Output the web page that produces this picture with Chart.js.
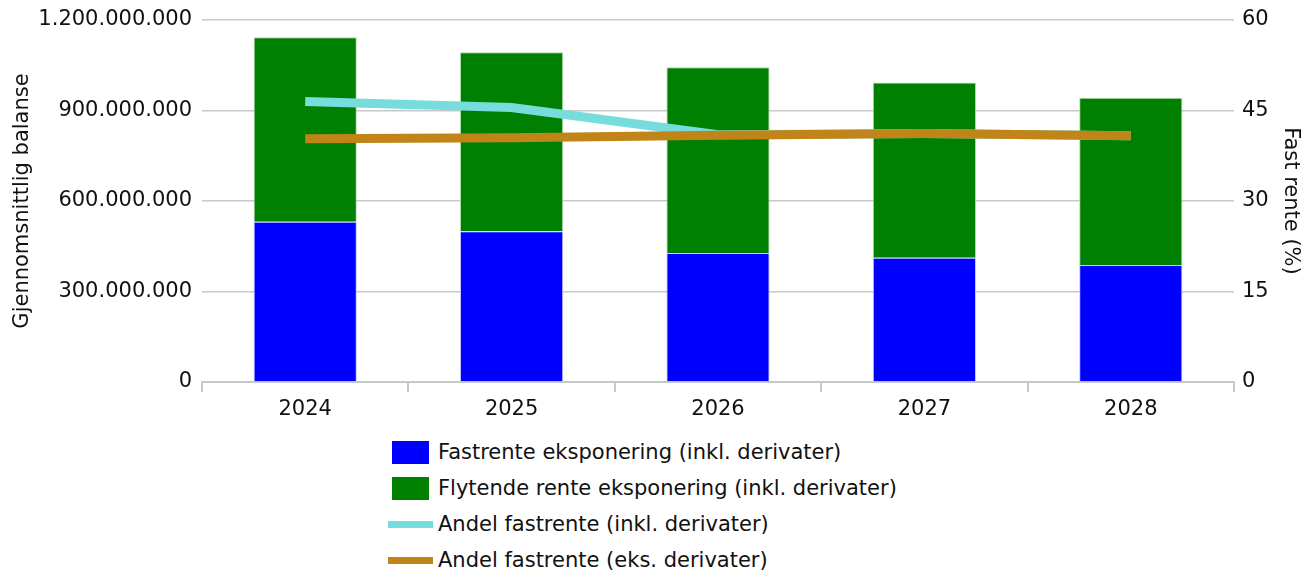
<!DOCTYPE html>
<html lang="no">
<head>
    <meta charset="UTF-8">
    <title>Renteeksponering</title>
    <script src="https://cdn.jsdelivr.net/npm/chart.js"></script>
    <style>
        body {
            margin: 0;
            background: #fff;
            font-family: "DejaVu Sans", sans-serif;
        }
        #wrap {
            position: relative;
            width: 1308px;
            height: 571px;
        }
        #legend {
            position: absolute;
            left: 386px;
            top: 434px;
            font-size: 21px;
            color: #111;
        }
        .item {
            height: 36px;
            display: flex;
            align-items: center;
        }
        .swatch {
            width: 52px;
            display: flex;
            justify-content: flex-start;
        }
    </style>
</head>
<body>
<div id="wrap">
    <canvas id="grafico" width="1308" height="430"></canvas>
    <div id="legend"></div>
</div>

<script>
    const aar = ["2024", "2025", "2026", "2027", "2028"];
    const fastrente = [531e6, 500e6, 428e6, 412e6, 388e6];
    const flytende = [612e6, 593e6, 615e6, 581e6, 554e6];
    const andelInkl = [46.5, 45.5, 41.0, 41.2, 40.8];
    const andelEks = [40.3, 40.5, 40.9, 41.2, 40.8];

    const grid = "#c8c8c8";
    const font = { family: "DejaVu Sans", size: 21 };
    const tickFont = { family: "DejaVu Sans", size: 21, lineHeight: 0.85 };

    function medPunktum(v) {
        return String(v).replace(/\B(?=(\d{3})+(?!\d))/g, ".");
    }

    const chart = new Chart(document.getElementById("grafico"), {
        data: {
            labels: aar,
            datasets: [
                {
                    type: "bar",
                    label: "Fastrente eksponering (inkl. derivater)",
                    data: fastrente,
                    backgroundColor: "#0000ff",
                    borderColor: "rgba(190,190,255,0.9)",
                    borderWidth: 1,
                    yAxisID: "y",
                    order: 3
                },
                {
                    type: "bar",
                    label: "Flytende rente eksponering (inkl. derivater)",
                    data: flytende,
                    backgroundColor: "#008000",
                    borderColor: "rgba(170,210,170,0.9)",
                    borderWidth: 1,
                    yAxisID: "y",
                    order: 3
                },
                {
                    type: "line",
                    label: "Andel fastrente (inkl. derivater)",
                    data: andelInkl,
                    borderColor: "#77dcdc",
                    borderWidth: 9,
                    pointRadius: 0,
                    tension: 0,
                    yAxisID: "y1",
                    order: 2
                },
                {
                    type: "line",
                    label: "Andel fastrente (eks. derivater)",
                    data: andelEks,
                    borderColor: "#c08418",
                    borderWidth: 9,
                    pointRadius: 0,
                    tension: 0,
                    yAxisID: "y1",
                    order: 1
                }
            ]
        },
        options: {
            responsive: false,
            animation: false,
            layout: { padding: { top: 20, bottom: 0, left: 0, right: 0 } },
            plugins: {
                legend: { display: false },
                tooltip: { enabled: false }
            },
            datasets: {
                bar: { barPercentage: 0.5, categoryPercentage: 1 }
            },
            scales: {
                x: {
                    stacked: true,
                    grid: { offset: true, drawOnChartArea: false, color: grid, lineWidth: 2, tickLength: 10 },
                    border: { color: grid, width: 2 },
                    ticks: { color: "#111", font: font, padding: 5 },
                    afterFit: s => { s.height = 48; }
                },
                y: {
                    stacked: true,
                    min: 0,
                    max: 1200000000,
                    ticks: { stepSize: 300000000, color: "#111", font: tickFont, padding: 10, callback: v => medPunktum(v) },
                    grid: { color: grid, lineWidth: 1.5, drawTicks: false },
                    border: { display: false },
                    title: { display: true, text: "Gjennomsnittlig balanse", color: "#111", font: font, padding: { top: 10, bottom: 0 } },
                    afterFit: s => { s.width = 202; }
                },
                y1: {
                    position: "right",
                    min: 0,
                    max: 60,
                    ticks: { stepSize: 15, color: "#111", font: tickFont, padding: 8 },
                    grid: { drawOnChartArea: false, drawTicks: false },
                    border: { display: false },
                    title: { display: true, text: "Fast rente (%)", color: "#111", font: font, padding: { top: 5, bottom: 0 } },
                    afterFit: s => { s.width = 74; }
                }
            }
        }
    });

    // legend i fast rekkefølge, som i originalen
    const legend = document.getElementById("legend");
    chart.data.datasets.forEach(ds => {
        const item = document.createElement("div");
        item.className = "item";
        const sw = document.createElement("div");
        sw.className = "swatch";
        const mark = document.createElement("div");
        if (ds.type === "bar") {
            mark.style.width = "37px";
            mark.style.height = "23px";
            mark.style.marginLeft = "6px";
            mark.style.background = ds.backgroundColor;
        } else {
            mark.style.width = "45px";
            mark.style.height = "7px";
            mark.style.marginLeft = "2px";
            mark.style.background = ds.borderColor;
        }
        sw.appendChild(mark);
        const txt = document.createElement("span");
        txt.textContent = ds.label;
        item.appendChild(sw);
        item.appendChild(txt);
        legend.appendChild(item);
    });
</script>
</body>
</html>
